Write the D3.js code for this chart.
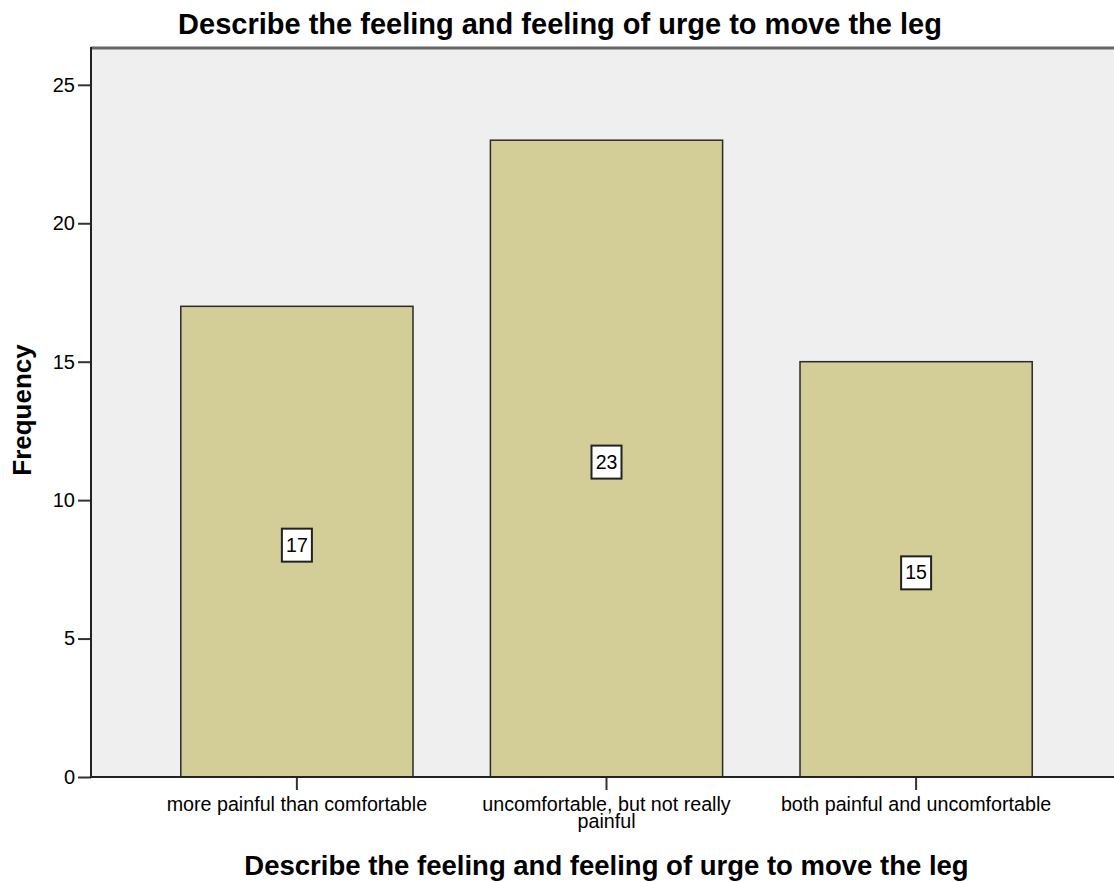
<html>
<head>
<meta charset="utf-8">
<title>Describe the feeling</title>
<script src="https://d3js.org/d3.v7.min.js"></script>
<style>
  body { margin: 0; background: #fff; }
  text { font-family: Arial, "Liberation Sans", sans-serif; fill: #000; }
</style>
</head>
<body>
<svg id="chart" width="1114" height="882"></svg>
<script>
// data
const categories = ["more painful than comfortable", "uncomfortable, but not really painful", "both painful and uncomfortable"];
const counts = [17, 23, 15];
const yTicks = [0, 5, 10, 15, 20, 25];
const titleText = "Describe the feeling and feeling of urge to move the leg";

const width = 1114, height = 882;
const plotLeft = 91, plotTop = 48, plotBottom = 777, plotRight = 1122;

const svg = d3.select('#chart');

const x = d3.scaleBand().domain(categories).range([plotLeft, plotRight])
    .paddingInner(0.25).paddingOuter(0.29);
const y = d3.scaleLinear().domain([0, 26.33]).range([plotBottom, plotTop]);

// plot background
svg.append('rect')
    .attr('x', plotLeft).attr('y', plotTop)
    .attr('width', plotRight - plotLeft).attr('height', plotBottom - plotTop)
    .attr('fill', '#efefef');

// top frame line
svg.append('line')
    .attr('x1', plotLeft).attr('x2', width)
    .attr('y1', plotTop).attr('y2', plotTop)
    .attr('stroke', '#666').attr('stroke-width', 3);

// bars
svg.selectAll('.bar')
    .data(categories)
    .enter()
    .append('rect')
    .attr('class', 'bar')
    .attr('x', d => x(d))
    .attr('y', (d, i) => y(counts[i]))
    .attr('width', x.bandwidth())
    .attr('height', (d, i) => y(0) - y(counts[i]))
    .attr('fill', '#d3ce97')
    .attr('stroke', '#2a2a2a')
    .attr('stroke-width', 1.5);

// value labels in white boxes
const labels = svg.selectAll('.lab')
    .data(categories)
    .enter()
    .append('g')
    .attr('class', 'lab')
    .attr('transform', (d, i) => `translate(${x(d) + x.bandwidth() / 2}, ${y(counts[i] / 2) + 3})`);

labels.append('rect')
    .attr('x', -15).attr('y', -16)
    .attr('width', 30).attr('height', 33)
    .attr('fill', '#fff')
    .attr('stroke', '#222')
    .attr('stroke-width', 2);

labels.append('text')
    .attr('text-anchor', 'middle')
    .attr('dy', '0.36em')
    .style('font-size', '19.5px')
    .text((d, i) => counts[i]);

// y axis
const yAxis = svg.append('g')
    .attr('transform', `translate(${plotLeft},0)`)
    .call(d3.axisLeft(y).tickValues(yTicks).tickSize(13).tickPadding(3));
yAxis.select('.domain').remove();
yAxis.selectAll('.tick line').attr('stroke', '#333').attr('stroke-width', 2);
yAxis.selectAll('.tick text')
    .style('font-size', '20px')
    .style('font-family', 'Arial, "Liberation Sans", sans-serif')
    .attr('fill', '#000');
svg.append('line')
    .attr('x1', plotLeft).attr('x2', plotLeft)
    .attr('y1', plotTop - 1).attr('y2', plotBottom + 1)
    .attr('stroke', '#222').attr('stroke-width', 2);

// x axis
const xAxis = svg.append('g')
    .attr('transform', `translate(0,${plotBottom})`)
    .call(d3.axisBottom(x).tickSize(13).tickPadding(0));
xAxis.select('.domain').remove();
xAxis.selectAll('.tick line').attr('stroke', '#333').attr('stroke-width', 2);
xAxis.selectAll('.tick text').remove();
svg.append('line')
    .attr('x1', plotLeft).attr('x2', width)
    .attr('y1', plotBottom).attr('y2', plotBottom)
    .attr('stroke', '#222').attr('stroke-width', 2);

// category labels, wrapped to the band step
const catText = svg.selectAll('.cat')
    .data(categories)
    .enter()
    .append('text')
    .attr('class', 'cat')
    .attr('text-anchor', 'middle')
    .style('font-size', '19.7px')
    .attr('x', d => x(d) + x.bandwidth() / 2)
    .attr('y', 811);

catText.each(function (d) {
    const t = d3.select(this);
    const words = d.split(' ');
    let line = [];
    let tspan = t.append('tspan').attr('x', t.attr('x')).attr('dy', 0);
    words.forEach(w => {
        line.push(w);
        tspan.text(line.join(' '));
        if (tspan.node().getComputedTextLength() > 290 && line.length > 1) {
            line.pop();
            tspan.text(line.join(' '));
            line = [w];
            tspan = t.append('tspan').attr('x', t.attr('x')).attr('dy', 17).text(w);
        }
    });
});

// titles
svg.append('text')
    .attr('x', 560).attr('y', 34)
    .attr('text-anchor', 'middle')
    .style('font-size', '29px')
    .style('font-weight', 'bold')
    .text(titleText);

svg.append('text')
    .attr('x', (plotLeft + plotRight) / 2).attr('y', 875)
    .attr('text-anchor', 'middle')
    .style('font-size', '27.5px')
    .style('font-weight', 'bold')
    .text(titleText);

svg.append('text')
    .attr('transform', `translate(31, 410) rotate(-90)`)
    .attr('text-anchor', 'middle')
    .style('font-size', '26px')
    .style('font-weight', 'bold')
    .text('Frequency');
</script>
</body>
</html>
